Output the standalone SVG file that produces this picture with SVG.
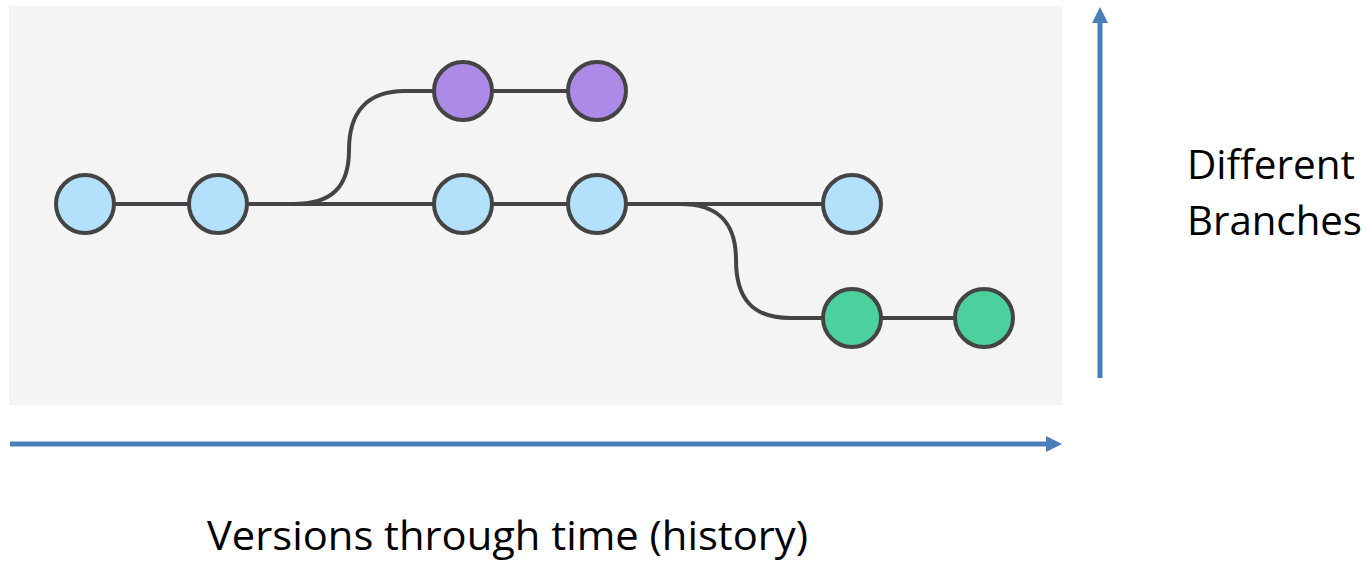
<svg xmlns="http://www.w3.org/2000/svg" width="1367" height="562" viewBox="0 0 1367 562">
  <style>
    .edge { fill: none; stroke: #444444; stroke-width: 4; }
    .commit { stroke: #444444; stroke-width: 4; }
    .main { fill: #b3e1fc; }
    .feature { fill: #ae8ae8; }
    .fix { fill: #4cd09e; }
    .axis { stroke: #4a7ebb; stroke-width: 5; fill: none; }
    .label { font-family: "Open Sans", "Liberation Sans", sans-serif; font-size: 41px; fill: #000000; }
  </style>
  <defs>
    <!-- head starts where the shaft ends -->
    <marker id="arrowhead" viewBox="0 0 10 10" refX="0" refY="5" markerWidth="3.2" markerHeight="3.4" orient="auto" markerUnits="strokeWidth">
      <path d="M0,0 L10,5 L0,10 Z" fill="#4a7ebb"/>
    </marker>
  </defs>

  <!-- canvas behind the commit graph -->
  <rect x="9" y="6" width="1053" height="399" fill="#f4f4f4"/>

  <!-- branch lines -->
  <g id="connectors">
    <path class="edge" d="M85,204 L852,204"/>
    <path class="edge" d="M293,204 C331,204 349,188 349,150 C349,112 367,91 405,91 L597,91"/>
    <path class="edge" d="M680,204 C718,204 736,222 736,260 C736,298 752,318 790,318 L984,318"/>
  </g>

  <!-- commits -->
  <g id="c1"><circle class="commit main" cx="85" cy="204" r="29"/></g>
  <g id="c2"><circle class="commit main" cx="218" cy="204" r="29"/></g>
  <g id="c3"><circle class="commit main" cx="463" cy="204" r="29"/></g>
  <g id="c4"><circle class="commit main" cx="597" cy="204" r="29"/></g>
  <g id="c5"><circle class="commit main" cx="852" cy="204" r="29"/></g>
  <g id="f1"><circle class="commit feature" cx="463" cy="91" r="29"/></g>
  <g id="f2"><circle class="commit feature" cx="597" cy="91" r="29"/></g>
  <g id="g1"><circle class="commit fix" cx="852" cy="318" r="29"/></g>
  <g id="g2"><circle class="commit fix" cx="984" cy="318" r="29"/></g>

  <!-- axes -->
  <g id="axes">
    <line class="axis" x1="10" y1="444" x2="1046" y2="444" marker-end="url(#arrowhead)"/>
    <line class="axis" x1="1100" y1="378" x2="1100" y2="23" marker-end="url(#arrowhead)"/>
  </g>

  <g id="labels">
    <text class="label" x="1187" y="179" textLength="168" lengthAdjust="spacingAndGlyphs">Different</text>
    <text class="label" x="1187" y="235" textLength="175" lengthAdjust="spacingAndGlyphs">Branches</text>
    <text class="label" x="207" y="550" textLength="601" lengthAdjust="spacingAndGlyphs">Versions through time (history)</text>
  </g>
</svg>
